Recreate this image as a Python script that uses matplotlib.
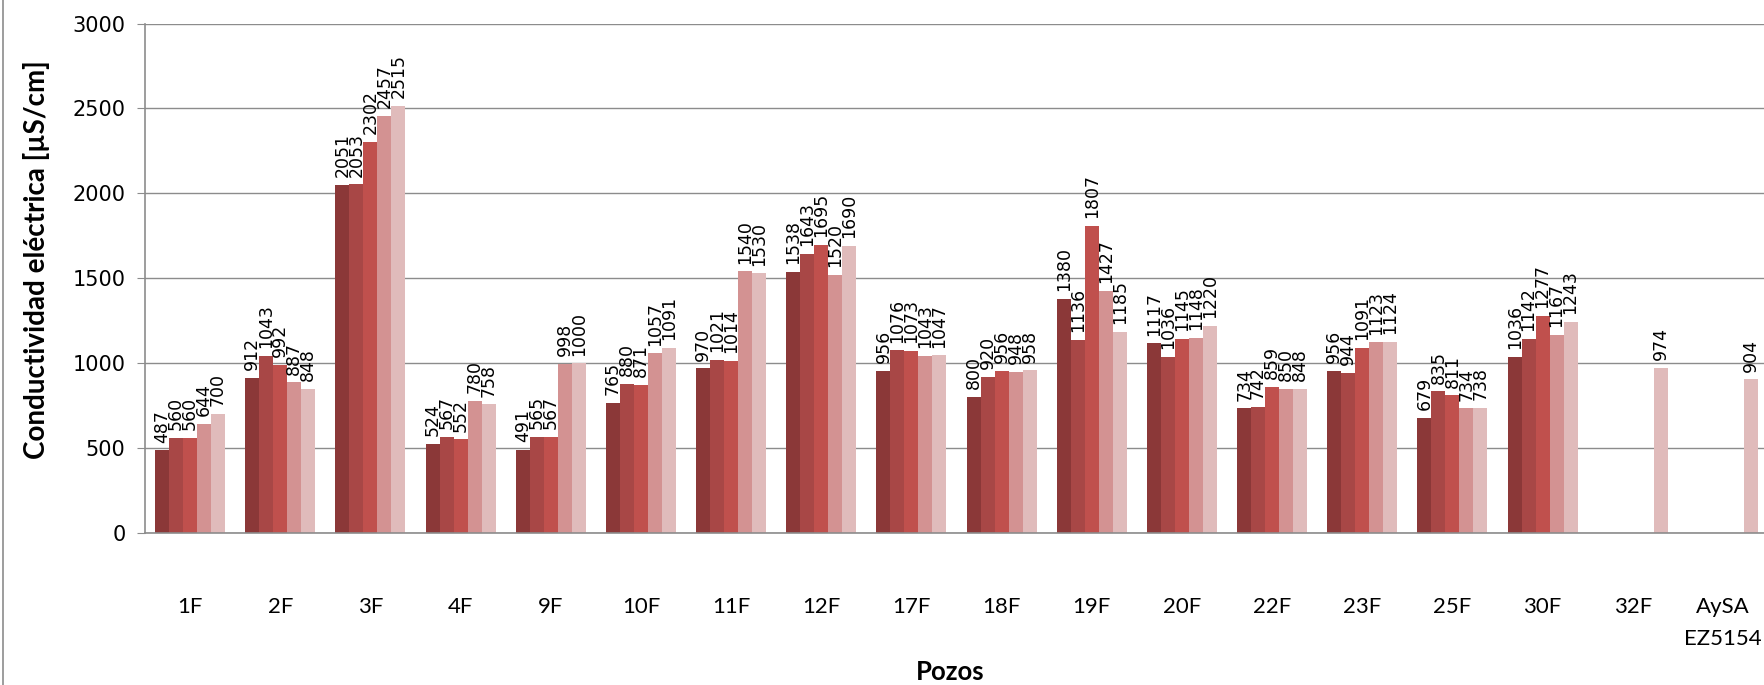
import numpy as np
import matplotlib
matplotlib.use("Agg")
import matplotlib.pyplot as plt
from matplotlib.lines import Line2D

# pozos y mediciones de conductividad (cinco campañas)
pozos = ["1F", "2F", "3F", "4F", "9F", "10F", "11F", "12F", "17F", "18F",
         "19F", "20F", "22F", "23F", "25F", "30F", "32F", "AySA\nEZ5154"]
nan = np.nan
serie1 = [487, 912, 2051, 524, 491, 765, 970, 1538, 956, 800,
          1380, 1117, 734, 956, 679, 1036, nan, nan]
serie2 = [560, 1043, 2053, 567, 565, 880, 1021, 1643, 1076, 920,
          1136, 1036, 742, 944, 835, 1142, nan, nan]
serie3 = [560, 992, 2302, 552, 567, 871, 1014, 1695, 1073, 956,
          1807, 1145, 859, 1091, 811, 1277, nan, nan]
serie4 = [644, 887, 2457, 780, 998, 1057, 1540, 1520, 1043, 948,
          1427, 1148, 850, 1123, 734, 1167, nan, nan]
serie5 = [700, 848, 2515, 758, 1000, 1091, 1530, 1690, 1047, 958,
          1185, 1220, 848, 1124, 738, 1243, 974, 904]

series = [serie1, serie2, serie3, serie4, serie5]
colores = ["#8B3838", "#A84746", "#C0504D", "#D39292", "#E0BBBB"]
gris = "#8C8C8C"

fig = plt.figure(figsize=(17.64, 6.85), dpi=100)
ax = fig.add_axes([145 / 1764, 1 - 533 / 685, 1623 / 1764, 509.5 / 685])

x = np.arange(len(pozos))
ancho = 0.155
for i, (vals, col) in enumerate(zip(series, colores)):
    pos = x + (i - 2) * ancho
    ax.bar(pos, vals, width=ancho, color=col, zorder=2)
    for xb, v in zip(pos, vals):
        if np.isnan(v):
            continue
        ax.annotate(f"{int(v)}", (xb, v), xytext=(0, 5.5), textcoords="offset points",
                    rotation=90, ha="center", va="bottom", fontsize=12.5,
                    family="DejaVu Sans", color="black")

ax.set_xlim(-0.5, len(pozos) - 0.5)
ax.set_ylim(0, 3000)
ax.set_yticks(np.arange(0, 3001, 500))
ax.yaxis.grid(True, color=gris, linewidth=1.0, zorder=0)
ax.set_axisbelow(True)

for s in ["top", "right"]:
    ax.spines[s].set_visible(False)
for s in ["left", "bottom"]:
    ax.spines[s].set_color(gris)
    ax.spines[s].set_linewidth(1.2)

ax.tick_params(axis="y", length=6, color=gris, labelsize=15, pad=8)
ax.tick_params(axis="x", length=0, pad=46)
ax.set_xticks(x)
ax.set_xticklabels(pozos, fontsize=16, family="Lato", linespacing=1.75)

fig.text(37 / 1764, 1 - 260 / 685, "Conductividad eléctrica [µS/cm]", rotation=90,
         ha="center", va="center", fontsize=20, fontweight="bold", family="Lato")
fig.text(950 / 1764, 1 - 672 / 685, "Pozos", ha="center", va="center",
         fontsize=18.5, fontweight="bold", family="Lato")

# borde del área del gráfico
fig.add_artist(Line2D([2.5 / 1764, 2.5 / 1764], [0, 1], color=gris, linewidth=1.2))

fig.savefig("out.png", dpi=100)
